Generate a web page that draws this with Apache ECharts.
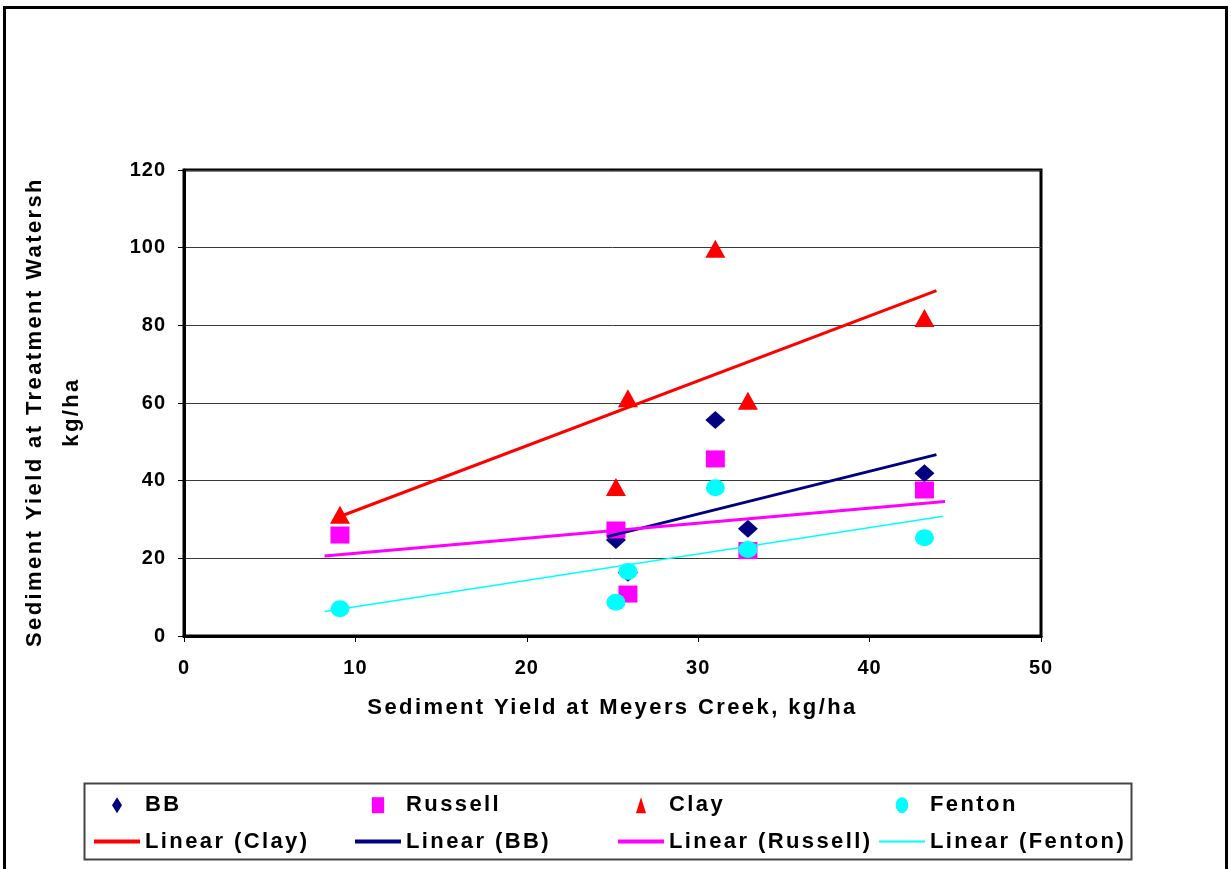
<!DOCTYPE html>
<html>
<head>
<meta charset="utf-8">
<style>
  html, body { margin: 0; padding: 0; background: #fff; }
  #chart { width: 1231px; height: 869px; }
</style>
<script src="https://cdn.jsdelivr.net/npm/echarts@6/dist/echarts.min.js"></script>
</head>
<body>
<div id="chart"></div>
<script>
// Sediment yield at Meyers Creek (x) and at each treatment watershed (y), kg/ha
const meyersBB = [25.2, 25.9, 31.0, 32.9, 43.2];
const yieldBB = [24.7, 16.3, 55.6, 27.6, 41.9];

const meyersAll = [9.1, 25.2, 25.9, 31.0, 32.9, 43.2];
const yieldRussell = [26.0, 27.3, 10.8, 45.6, 22.0, 37.6];
const yieldClay = [31.2, 38.4, 61.2, 99.7, 60.6, 81.9];
const yieldFenton = [7.0, 8.7, 16.6, 38.2, 22.3, 25.3];

// x extent covered by each fitted trend line
const trendRangeClay = [9.1, 43.9];
const trendRangeBB = [24.7, 43.9];
const trendRangeRussell = [8.2, 44.4];
const trendRangeFenton = [8.2, 44.3];

const xTicks = [0, 10, 20, 30, 40, 50];
const yTicks = [0, 20, 40, 60, 80, 100, 120];

const FONT = '"Liberation Sans", Arial, sans-serif';

// Tracked (letter-spaced) lettering: wide tracking for titles and legend,
// slight tracking for tick numbers.
(function () {
  const proto = CanvasRenderingContext2D.prototype;
  if (!('letterSpacing' in proto)) return;
  function track(ctx) {
    const m = /(\d+(?:\.\d+)?)px/.exec(ctx.font);
    const size = m ? parseFloat(m[1]) : 12;
    ctx.letterSpacing = size >= 21 ? '2.4px' : (size >= 19 ? '1px' : '0px');
  }
  const fill = proto.fillText, stroke = proto.strokeText, measure = proto.measureText;
  proto.fillText = function () { track(this); return fill.apply(this, arguments); };
  proto.strokeText = function () { track(this); return stroke.apply(this, arguments); };
  proto.measureText = function () { track(this); return measure.apply(this, arguments); };
})();

function pairs(xs, ys) {
  return xs.map((x, i) => [x, ys[i]]);
}

// Least-squares line evaluated at the two ends of its range
function linearFit(xs, ys, range) {
  const n = xs.length;
  const mx = xs.reduce((a, b) => a + b, 0) / n;
  const my = ys.reduce((a, b) => a + b, 0) / n;
  let sxy = 0, sxx = 0;
  for (let i = 0; i < n; i++) {
    sxy += (xs[i] - mx) * (ys[i] - my);
    sxx += (xs[i] - mx) * (xs[i] - mx);
  }
  const slope = sxy / sxx;
  const icpt = my - slope * mx;
  return range.map(x => [x, icpt + slope * x]);
}

const COLORS = { BB: '#000080', Russell: '#FF00FF', Clay: '#FF0000', Fenton: '#00FFFF' };

const ICON_DIAMOND = 'path://M5,0L10,8L5,16L0,8Z';
const ICON_SQUARE = 'path://M0,0L10,0L10,13L0,13Z';
const ICON_TRIANGLE = 'path://M5,0L10,16L0,16Z';
const ICON_ELLIPSE = 'path://M5.5,0A5.5,7,0,1,1,5.5,14A5.5,7,0,1,1,5.5,0Z';

const legendText = { fontFamily: FONT, fontWeight: 'bold', fontSize: 22, color: '#000' };

// trend-line entries show only the line stroke, no marker
function trendEntry(name, width) {
  return { name: name, itemStyle: { opacity: 0 }, lineStyle: { width: width } };
}

function legendColumn(left, items) {
  return {
    orient: 'vertical',
    left: left,
    top: 793,
    itemWidth: 46,
    itemHeight: 16,
    itemGap: 12,
    padding: 0,
    selectedMode: false,
    textStyle: legendText,
    data: items
  };
}

const chart = echarts.init(document.getElementById('chart'), null, { renderer: 'canvas' });

const axisLabelStyle = { fontFamily: FONT, fontWeight: 'bold', fontSize: 20, color: '#000' };

chart.setOption({
  backgroundColor: '#fff',
  animation: false,
  graphic: [
    {
      type: 'rect', z: -10, silent: true,
      shape: { x: 4.5, y: 7.5, width: 1222, height: 900 },
      style: { fill: 'none', stroke: '#000', lineWidth: 3 }
    },
    {
      type: 'rect', z: -10, silent: true,
      shape: { x: 84.5, y: 783.5, width: 1047, height: 76 },
      style: { fill: 'none', stroke: '#444', lineWidth: 2 }
    }
  ],
  grid: {
    left: 184, right: 190, top: 170, bottom: 233,
    show: true, borderColor: '#000', borderWidth: 3, backgroundColor: '#fff'
  },
  legend: [
    legendColumn(92, [{ name: 'BB', icon: ICON_DIAMOND }, trendEntry('Linear (Clay)', 4)]),
    legendColumn(353, [{ name: 'Russell', icon: ICON_SQUARE }, trendEntry('Linear (BB)', 4)]),
    legendColumn(616, [{ name: 'Clay', icon: ICON_TRIANGLE }, trendEntry('Linear (Russell)', 4)]),
    legendColumn(878, [{ name: 'Fenton', icon: ICON_ELLIPSE }, trendEntry('Linear (Fenton)', 2)])
  ],
  xAxis: {
    type: 'value',
    min: xTicks[0], max: xTicks[xTicks.length - 1], interval: 10,
    name: 'Sediment Yield at Meyers Creek, kg/ha',
    nameLocation: 'middle',
    nameGap: 60,
    nameTextStyle: { fontFamily: FONT, fontWeight: 'bold', fontSize: 22, color: '#000' },
    axisLine: { show: true, onZero: false, lineStyle: { color: '#000', width: 3 } },
    axisTick: { show: true, inside: false, length: 6, lineStyle: { color: '#000', width: 1 } },
    axisLabel: Object.assign({ margin: 22 }, axisLabelStyle),
    splitLine: { show: false }
  },
  yAxis: {
    type: 'value',
    min: yTicks[0], max: yTicks[yTicks.length - 1], interval: 20,
    name: 'Sediment Yield at Treatment Watersh\nkg/ha',
    nameLocation: 'middle',
    nameGap: 94,
    nameTextStyle: {
      fontFamily: FONT, fontWeight: 'bold', fontSize: 22, color: '#000',
      lineHeight: 37, padding: [0, 18, 0, 0]
    },
    axisLine: { show: true, onZero: false, lineStyle: { color: '#000', width: 3 } },
    axisTick: { show: true, inside: false, length: 6, lineStyle: { color: '#000', width: 1 } },
    axisLabel: Object.assign({ margin: 18 }, axisLabelStyle),
    splitLine: { show: true, lineStyle: { color: '#3a3a3a', width: 1 } }
  },
  series: [
    {
      name: 'BB', type: 'scatter', symbol: 'diamond', symbolSize: [20, 18],
      itemStyle: { color: COLORS.BB, opacity: 1 },
      data: pairs(meyersBB, yieldBB), z: 3
    },
    {
      name: 'Russell', type: 'scatter', symbol: 'rect', symbolSize: [19, 17],
      itemStyle: { color: COLORS.Russell, opacity: 1 },
      data: pairs(meyersAll, yieldRussell), z: 3
    },
    {
      name: 'Clay', type: 'scatter', symbol: 'triangle', symbolSize: [20, 18],
      itemStyle: { color: COLORS.Clay, opacity: 1 },
      data: pairs(meyersAll, yieldClay), z: 3
    },
    {
      name: 'Fenton', type: 'scatter', symbol: 'circle', symbolSize: [19, 17],
      itemStyle: { color: COLORS.Fenton, opacity: 1 },
      data: pairs(meyersAll, yieldFenton), z: 3
    },
    {
      name: 'Linear (Clay)', type: 'line', symbol: 'none', z: 4,
      lineStyle: { color: COLORS.Clay, width: 3 }, itemStyle: { color: COLORS.Clay },
      data: linearFit(meyersAll, yieldClay, trendRangeClay)
    },
    {
      name: 'Linear (BB)', type: 'line', symbol: 'none', z: 4,
      lineStyle: { color: COLORS.BB, width: 3 }, itemStyle: { color: COLORS.BB },
      data: linearFit(meyersBB, yieldBB, trendRangeBB)
    },
    {
      name: 'Linear (Russell)', type: 'line', symbol: 'none', z: 4,
      lineStyle: { color: COLORS.Russell, width: 3 }, itemStyle: { color: COLORS.Russell },
      data: linearFit(meyersAll, yieldRussell, trendRangeRussell)
    },
    {
      name: 'Linear (Fenton)', type: 'line', symbol: 'none', z: 4,
      lineStyle: { color: COLORS.Fenton, width: 1.5 }, itemStyle: { color: COLORS.Fenton },
      data: linearFit(meyersAll, yieldFenton, trendRangeFenton)
    }
  ]
});
</script>
</body>
</html>
